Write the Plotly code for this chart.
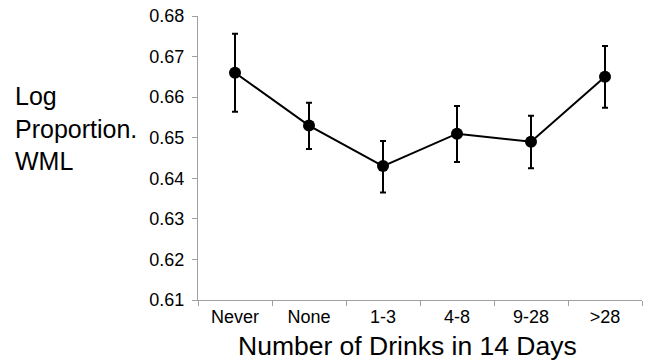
import plotly.graph_objects as go

categories = ["Never", "None", "1-3", "4-8", "9-28", ">28"]
values = [0.666, 0.653, 0.643, 0.651, 0.649, 0.665]
err_plus = [0.0096, 0.0056, 0.0062, 0.0068, 0.0064, 0.0076]
err_minus = [0.0096, 0.0058, 0.0065, 0.0070, 0.0065, 0.0076]
y_ticks = [0.61, 0.62, 0.63, 0.64, 0.65, 0.66, 0.67, 0.68]

W, H = 651, 363
L, R, T, B = 198, 9, 16, 63
PW, PH = W - L - R, H - T - B

def px_x(x):
    return (x - L) / PW

def px_y(y):
    return (H - B - y) / PH

fig = go.Figure()
fig.add_trace(go.Scatter(
    x=categories, y=values, mode="lines+markers",
    line=dict(color="black", width=2),
    marker=dict(color="black", size=12),
    error_y=dict(type="data", symmetric=False, array=err_plus, arrayminus=err_minus,
                 color="black", thickness=2, width=3),
    showlegend=False,
    hoverinfo="skip",
))

font = "Liberation Sans, Arial, sans-serif"
fig.update_layout(
    width=W, height=H,
    margin=dict(l=L, r=R, t=T, b=B, autoexpand=False),
    paper_bgcolor="white", plot_bgcolor="white",
    font=dict(family=font, color="black"),
    xaxis=dict(
        type="category", range=[-0.5, 5.5], automargin=False,
        showline=True, linecolor="#a0a0a0", linewidth=1,
        ticks="outside", tickson="boundaries", ticklen=5, tickcolor="#a0a0a0",
        showgrid=False, tickfont=dict(size=18, family=font),
    ),
    yaxis=dict(
        range=[0.61, 0.68], tickvals=y_ticks, ticktext=[f"{v:.2f}" for v in y_ticks],
        automargin=False,
        showline=True, linecolor="#a0a0a0", linewidth=1,
        ticks="outside", ticklen=5, tickcolor="#a0a0a0",
        ticklabelstandoff=4,
        showgrid=False, zeroline=False, tickfont=dict(size=18, family=font),
    ),
    annotations=[
        dict(
            text="Log<br>Proportion.<br>WML", xref="paper", yref="paper",
            x=px_x(13), y=px_y(128),
            xanchor="left", yanchor="middle", align="left", showarrow=False,
            font=dict(size=25, family=font, color="black"),
        ),
        dict(
            text="Number of Drinks in 14 Days", xref="paper", yref="paper",
            x=px_x(407), y=px_y(346),
            xanchor="center", yanchor="middle", showarrow=False,
            font=dict(size=26.5, family=font, color="black"),
        ),
    ],
)

fig.write_html("out.html", config={"displayModeBar": False},
               post_script="document.body.style.margin='0px';")
